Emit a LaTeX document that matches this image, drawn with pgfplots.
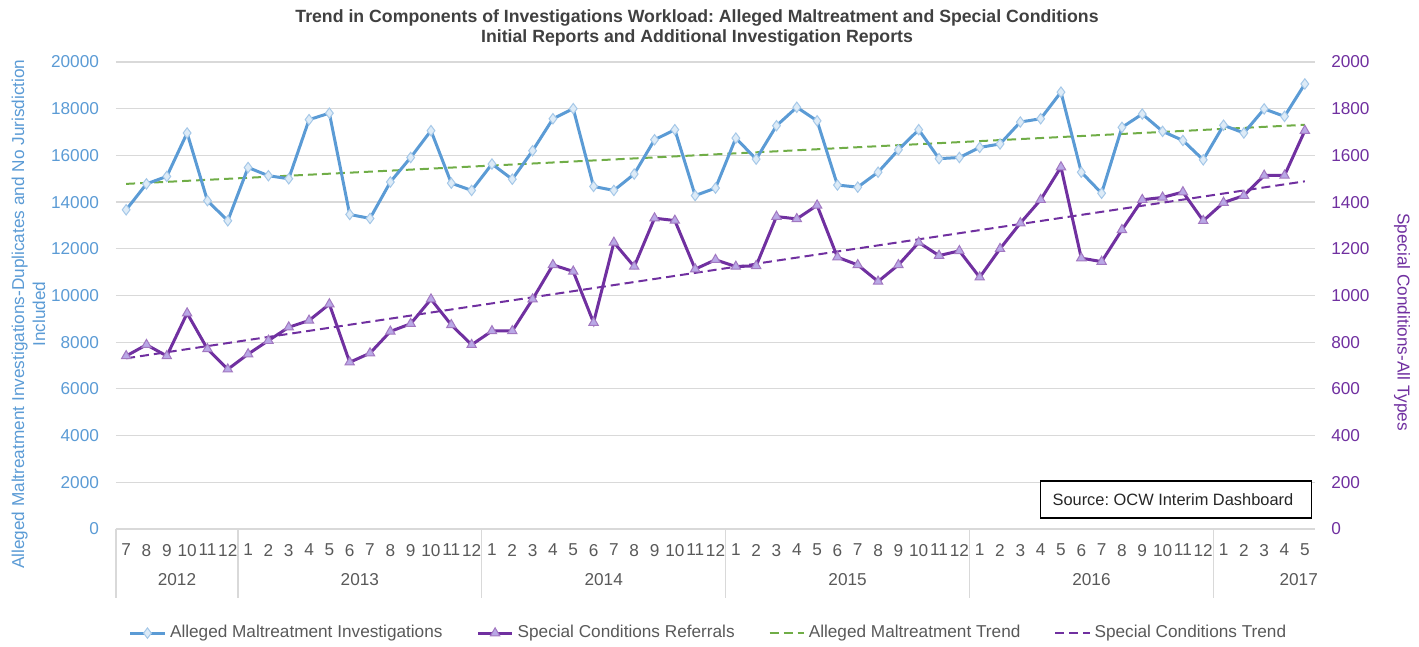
\documentclass[border=0pt]{standalone}
\usepackage{fontspec}
\setmainfont{Liberation Sans}
\usepackage{pgfplots}
\usepackage{pgfplotstable}
\pgfplotsset{compat=1.18}
\frenchspacing

\definecolor{amblue}{HTML}{5B9BD5}
\definecolor{amfill}{HTML}{DDEBF7}
\definecolor{scpurple}{HTML}{7030A0}
\definecolor{scfill}{HTML}{B9A8E6}
\definecolor{trgreen}{HTML}{70AD47}
\definecolor{gridgray}{HTML}{D9D9D9}
\definecolor{txtgray}{HTML}{595959}
\definecolor{titlegray}{HTML}{404040}

% month index (0 = Jul 2012), alleged maltreatment, special conditions
\pgfplotstableread{
idx am sc
0 13670 741
1 14780 789
2 15100 741
3 16960 924
4 14060 771
5 13200 684
6 15480 749
7 15130 807
8 15000 864
9 17530 893
10 17810 963
11 13470 714
12 13300 753
13 14860 846
14 15910 879
15 17060 984
16 14810 874
17 14500 789
18 15630 848
19 14980 848
20 16200 984
21 17570 1131
22 18000 1103
23 14670 884
24 14500 1227
25 15200 1124
26 16670 1331
27 17100 1321
28 14280 1113
29 14600 1153
30 16740 1124
31 15840 1127
32 17270 1338
33 18060 1328
34 17480 1386
35 14730 1164
36 14640 1131
37 15280 1060
38 16240 1131
39 17100 1227
40 15860 1171
41 15910 1191
42 16340 1078
43 16490 1200
44 17430 1310
45 17570 1410
46 18710 1550
47 15280 1160
48 14380 1145
49 17200 1281
50 17770 1410
51 17030 1420
52 16640 1443
53 15810 1320
54 17290 1398
55 16960 1428
56 17990 1514
57 17670 1514
58 19060 1706
}\datatable

\pgfplotsset{
  base/.style={
    scale only axis, width=599.5pt, height=233.5pt,
    xmin=-0.5, xmax=58.5, ymin=0,
    axis line style={draw=none},
    major tick length=0pt,
    clip=false,
    scaled y ticks=false,
    /pgf/number format/assume math mode=true,
    /pgf/number format/1000 sep={},
    tick label style={font=\fontsize{8.6}{10}\selectfont},
  },
  amline/.style={amblue, line width=1.5pt, mark=diamond*, mark size=2.6pt,
    mark options={fill=amfill, draw=amblue!55, line width=0.5pt}},
  scline/.style={scpurple, line width=1.5pt, mark=triangle*, mark size=2.7pt,
    mark options={fill=scfill, draw=scpurple!65, line width=0.5pt}},
  amtrend/.style={trgreen, line width=1pt, dash pattern=on 4.5pt off 2.5pt, no marks},
  sctrend/.style={scpurple, line width=1pt, dash pattern=on 4.5pt off 2.5pt, no marks},
}

\begin{document}
\begin{tikzpicture}[font=\fontsize{8.6}{10}\selectfont]
\useasboundingbox (-58pt,-59pt) rectangle (651.5pt,264.5pt);

\begin{axis}[base,
  ymax=20000, ytick={0,2000,...,20000},
  ymajorgrids, grid style={gridgray, line width=0.6pt},
  yticklabel style={text=amblue, xshift=-5pt},
  xtick={0,...,58},
  xticklabels={7,8,9,10,11,12,1,2,3,4,5,6,7,8,9,10,11,12,1,2,3,4,5,6,7,8,9,10,11,12,1,2,3,4,5,6,7,8,9,10,11,12,1,2,3,4,5,6,7,8,9,10,11,12,1,2,3,4,5},
  xticklabel style={text=txtgray, yshift=-4pt},
  ylabel={Alleged Maltreatment Investigations-Duplicates and No Jurisdiction\\Included},
  ylabel style={at={(axis description cs:-0.073,0.46)}, anchor=center, align=center,
    text=amblue, font=\fontsize{8.6}{10.5}\selectfont},
]
\foreach \s in {-0.5,5.5,17.5,29.5,41.5,53.5} {
  \edef\temp{\noexpand\draw[gridgray, line width=0.6pt] (axis cs:\s,0) -- ([yshift=-34.5pt]axis cs:\s,0);}
  \temp
}
\node[text=txtgray] at (axis cs:2.5,0) [yshift=-25.5pt] {2012};
\node[text=txtgray] at (axis cs:11.5,0) [yshift=-25.5pt] {2013};
\node[text=txtgray] at (axis cs:23.5,0) [yshift=-25.5pt] {2014};
\node[text=txtgray] at (axis cs:35.5,0) [yshift=-25.5pt] {2015};
\node[text=txtgray] at (axis cs:47.5,0) [yshift=-25.5pt] {2016};
\node[text=txtgray] at (axis cs:57.7,0) [yshift=-25.5pt] {2017};
\addplot[amtrend] coordinates {(0,14780) (58,17310)};
\addplot[amline] table[x=idx, y=am] {\datatable};
\end{axis}

\begin{axis}[base,
  ymax=2000, ytick={0,200,...,2000},
  hide x axis,
  ytick pos=right, yticklabel pos=right,
  yticklabel style={text=scpurple, xshift=4.6pt},
  ylabel={Special Conditions-All Types},
  ylabel style={at={(axis description cs:1.0726,0.443)}, anchor=center,
    rotate=180, text=scpurple, font=\fontsize{8.6}{10}\selectfont},
  legend columns=4,
  legend style={at={(axis description cs:0.495,-0.223)}, anchor=center, draw=none,
    fill=none, text=txtgray, font=\fontsize{8.6}{10}\selectfont,
    /tikz/every even column/.append style={column sep=15pt}},
]
\addlegendimage{amline}
\addlegendentry{Alleged Maltreatment Investigations}
\addplot[scline] table[x=idx, y=sc] {\datatable};
\addlegendentry{Special Conditions Referrals}
\addlegendimage{amtrend}
\addlegendentry{Alleged Maltreatment Trend}
\addplot[sctrend] coordinates {(0,731) (58,1489)};
\addlegendentry{Special Conditions Trend}
\end{axis}

\node[font=\bfseries\fontsize{8.85}{10}\selectfont, text=titlegray, align=center]
  at (290.5pt,250.5pt) {Trend in Components of Investigations Workload: Alleged Maltreatment and Special Conditions\\Initial Reports and Additional Investigation Reports};
\node[draw=black, line width=0.6pt, fill=white, anchor=west, inner xsep=6pt,
  minimum width=135.5pt, minimum height=18.5pt, text=black!85,
  font=\fontsize{8.2}{10}\selectfont] at (462pt,14.75pt)
  {\makebox[123.5pt][l]{Source: OCW Interim Dashboard}};
\end{tikzpicture}
\end{document}
